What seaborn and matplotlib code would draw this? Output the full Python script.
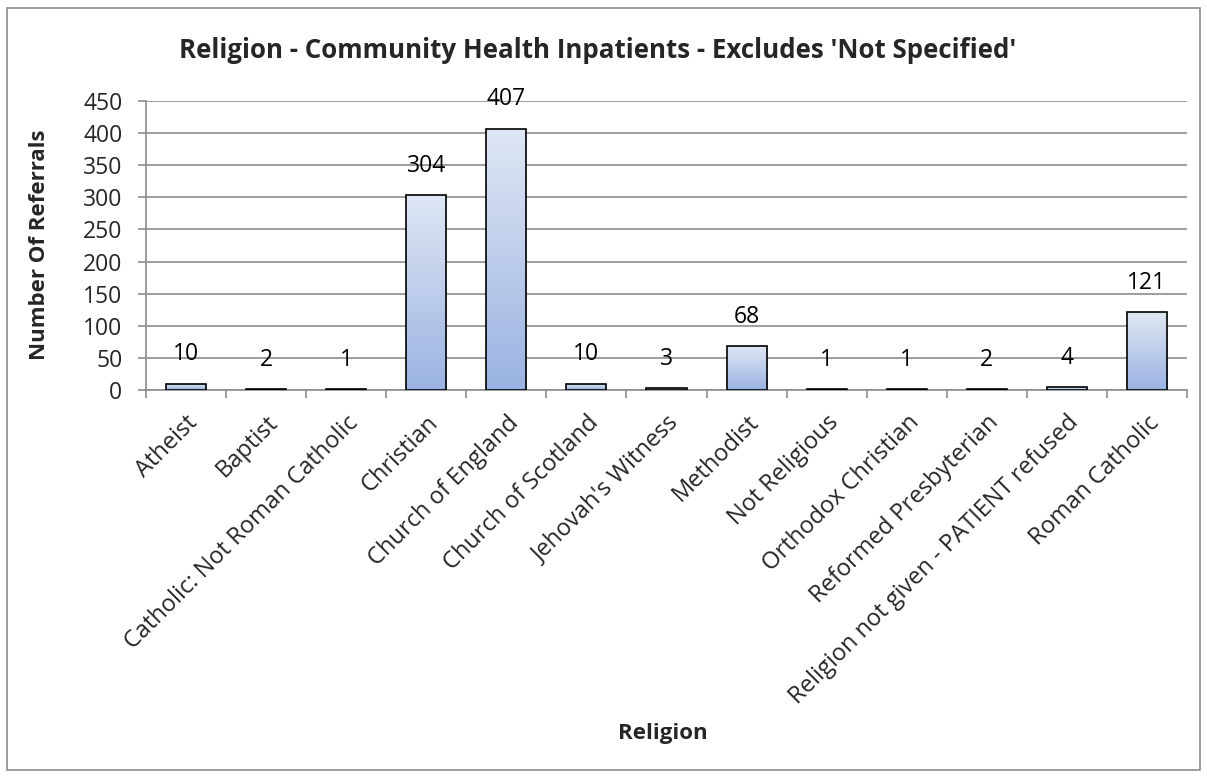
import numpy as np
import pandas as pd
import matplotlib
matplotlib.use("Agg")
import matplotlib.pyplot as plt
import seaborn as sns
from matplotlib.colors import LinearSegmentedColormap
from matplotlib.patches import Rectangle

categories = ["Atheist", "Baptist", "Catholic: Not Roman Catholic", "Christian",
              "Church of England", "Church of Scotland", "Jehovah's Witness",
              "Methodist", "Not Religious", "Orthodox Christian",
              "Reformed Presbyterian", "Religion not given - PATIENT refused",
              "Roman Catholic"]
values = [10, 2, 1, 304, 407, 10, 3, 68, 1, 1, 2, 4, 121]
y_ticks = [0, 50, 100, 150, 200, 250, 300, 350, 400, 450]

sns.set_theme(style="white")
plt.rcParams['font.family'] = ['Open Sans', 'DejaVu Sans']

fig = plt.figure(figsize=(12.07, 7.76), dpi=100)
ax = fig.add_axes([146/1207, 1-390/776, (1187-146)/1207, (390-101)/776])

df = pd.DataFrame({"Religion": categories, "Count": values})
sns.barplot(data=df, x="Religion", y="Count", ax=ax, width=0.5,
            color="#c0cfea", edgecolor="black", linewidth=1.2, zorder=3)

cmap = LinearSegmentedColormap.from_list("g", ["#9ab3e2", "#e0e7f4"])
grad = np.linspace(0, 1, 256).reshape(-1, 1)
for p in list(ax.patches):
    x0, y0 = p.get_x(), p.get_y()
    w, h = p.get_width(), p.get_height()
    im = ax.imshow(grad, aspect="auto", cmap=cmap, origin="lower",
                   extent=[x0, x0 + w, y0, y0 + h], zorder=3.5)
    im.set_clip_path(p)
    p.set_facecolor("none")
    p.set_zorder(4)

FS = 16.5
ax.set_xlim(-0.5, len(categories) - 0.5)
ax.set_ylim(0, 450)
ax.set_yticks(y_ticks)
ax.set_yticklabels([str(t) for t in y_ticks], fontsize=FS)
ax.yaxis.grid(True, color="#8c8c8c", linewidth=1.2, zorder=0)
ax.set_axisbelow(True)

for i, v in enumerate(values):
    ax.annotate(str(v), (i, v), xytext=(0, 21), textcoords="offset points",
                ha="center", va="center", fontsize=FS, color="black")

ax.set_xticks(np.arange(len(categories)))
ax.set_xticklabels(categories, rotation=45, ha="right", rotation_mode="anchor",
                   fontsize=17)
ax.tick_params(axis="x", length=0, pad=15)
ax.set_xticks(np.arange(-0.5, len(categories)), minor=True)
ax.tick_params(axis="x", which="minor", length=6, width=1.2, color="#8c8c8c",
               direction="out", bottom=True)
ax.tick_params(axis="y", length=6, width=1.2, color="#8c8c8c", direction="out",
               left=True, pad=11)

for s in ["top", "right"]:
    ax.spines[s].set_visible(False)
for s in ["left", "bottom"]:
    ax.spines[s].set_color("#8c8c8c")
    ax.spines[s].set_linewidth(1.2)

ax.set_xlabel("")
ax.set_ylabel("")
fig.text(663/1207, 1-733/776, "Religion", ha="center", va="center",
         fontsize=16, fontweight="bold")
fig.text(40/1207, 1-245/776, "Number Of Referrals", ha="center", va="center",
         rotation=90, fontsize=16, fontweight="bold")
fig.text(598/1207, 1-50/776,
         "Religion - Community Health Inpatients - Excludes 'Not Specified'",
         ha="center", va="center", fontsize=18.6, fontweight="bold")

fig.patches.append(Rectangle((7/1207, 1-770/776), (1200-7)/1207, (770-8)/776,
                             transform=fig.transFigure, fill=False,
                             edgecolor="#8c8c8c", linewidth=1.2))

fig.savefig("out.png", dpi=100, facecolor="white")
